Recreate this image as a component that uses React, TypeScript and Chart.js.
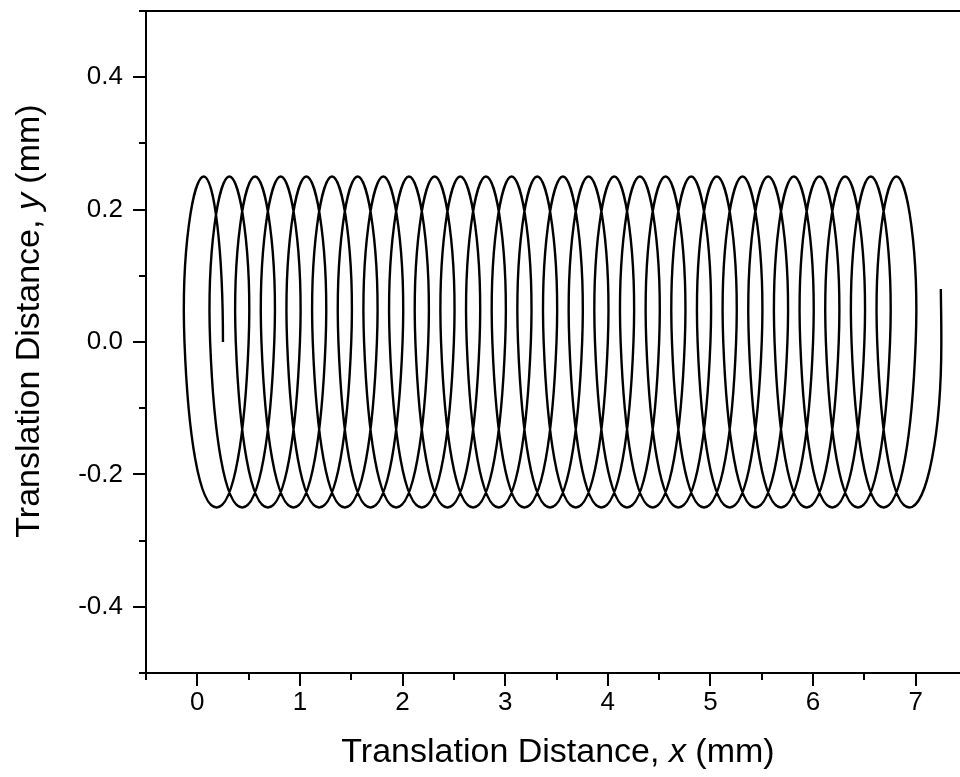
import React, { useEffect, useRef } from 'react';
import { Chart, registerables } from 'chart.js';

Chart.register(...registerables);

const FONT = '"Liberation Sans", Arial, sans-serif';

// Key points of the trochoid path (right, top, left, bottom of each loop), in mm
const pathX = [
  0.25, 0.0625, -0.125, 0.1875,
  0.5, 0.3125, 0.125, 0.4375,
  0.75, 0.5625, 0.375, 0.6875,
  1.0, 0.8125, 0.625, 0.9375,
  1.25, 1.0625, 0.875, 1.1875,
  1.5, 1.3125, 1.125, 1.4375,
  1.75, 1.5625, 1.375, 1.6875,
  2.0, 1.8125, 1.625, 1.9375,
  2.25, 2.0625, 1.875, 2.1875,
  2.5, 2.3125, 2.125, 2.4375,
  2.75, 2.5625, 2.375, 2.6875,
  3.0, 2.8125, 2.625, 2.9375,
  3.25, 3.0625, 2.875, 3.1875,
  3.5, 3.3125, 3.125, 3.4375,
  3.75, 3.5625, 3.375, 3.6875,
  4.0, 3.8125, 3.625, 3.9375,
  4.25, 4.0625, 3.875, 4.1875,
  4.5, 4.3125, 4.125, 4.4375,
  4.75, 4.5625, 4.375, 4.6875,
  5.0, 4.8125, 4.625, 4.9375,
  5.25, 5.0625, 4.875, 5.1875,
  5.5, 5.3125, 5.125, 5.4375,
  5.75, 5.5625, 5.375, 5.6875,
  6.0, 5.8125, 5.625, 5.9375,
  6.25, 6.0625, 5.875, 6.1875,
  6.5, 6.3125, 6.125, 6.4375,
  6.75, 6.5625, 6.375, 6.6875,
  7.0, 6.8125, 6.625, 6.9375,
  7.25, 7.245,
];

const pathY = [
  0, 0.25, 0, -0.25,
  0, 0.25, 0, -0.25,
  0, 0.25, 0, -0.25,
  0, 0.25, 0, -0.25,
  0, 0.25, 0, -0.25,
  0, 0.25, 0, -0.25,
  0, 0.25, 0, -0.25,
  0, 0.25, 0, -0.25,
  0, 0.25, 0, -0.25,
  0, 0.25, 0, -0.25,
  0, 0.25, 0, -0.25,
  0, 0.25, 0, -0.25,
  0, 0.25, 0, -0.25,
  0, 0.25, 0, -0.25,
  0, 0.25, 0, -0.25,
  0, 0.25, 0, -0.25,
  0, 0.25, 0, -0.25,
  0, 0.25, 0, -0.25,
  0, 0.25, 0, -0.25,
  0, 0.25, 0, -0.25,
  0, 0.25, 0, -0.25,
  0, 0.25, 0, -0.25,
  0, 0.25, 0, -0.25,
  0, 0.25, 0, -0.25,
  0, 0.25, 0, -0.25,
  0, 0.25, 0, -0.25,
  0, 0.25, 0, -0.25,
  0, 0.25, 0, -0.25,
  0, 0.08,
];

const xMajorTicks = [0, 1, 2, 3, 4, 5, 6, 7];
const xMinorTicks = [-0.5, 0.5, 1.5, 2.5, 3.5, 4.5, 5.5, 6.5, 7.5];
const yMajorTicks = [-0.4, -0.2, 0.0, 0.2, 0.4];
const yMinorTicks = [-0.5, -0.3, -0.1, 0.1, 0.3, 0.5];

const xTitleParts: [string, boolean][] = [['Translation Distance, ', false], ['x', true], [' (mm)', false]];
const yTitleParts: [string, boolean][] = [['Translation Distance, ', false], ['y', true], [' (mm)', false]];

const TITLE_SIZE = 34;

function drawParts(ctx: CanvasRenderingContext2D, parts: [string, boolean][], size: number) {
  const widths: number[] = [];
  let total = 0;
  parts.forEach(([t, it]) => {
    ctx.font = `${it ? 'italic ' : ''}${size}px ${FONT}`;
    const w = ctx.measureText(t).width;
    widths.push(w);
    total += w;
  });
  let x = -total / 2;
  parts.forEach(([t, it], i) => {
    ctx.font = `${it ? 'italic ' : ''}${size}px ${FONT}`;
    ctx.fillText(t, x, 0);
    x += widths[i];
  });
}

// Make the path start and finish with vertical tangents (as in the recorded trajectory)
const endTangentPlugin = {
  id: 'endTangents',
  beforeDatasetDraw(chart: any, args: any) {
    const meta = args.meta;
    const line = meta.dataset;
    if (!line) return;
    line.updateControlPoints(chart.chartArea, meta.iScale ? meta.iScale.axis : 'x');
    const pts = meta.data;
    const n = pts.length;
    if (n < 3) return;
    pts[0].cp2x = pts[0].x;
    pts[n - 2].cp1x = pts[n - 2].x;
    pts[n - 2].cp2x = pts[n - 2].x;
    line._path = undefined;
  },
};

const framePlugin = {
  id: 'frameTicks',
  afterDraw(chart: any) {
    const { ctx, chartArea } = chart;
    const { left, right, top, bottom } = chartArea;
    const xs = chart.scales.x;
    const ys = chart.scales.y;
    ctx.save();
    ctx.strokeStyle = '#000';
    ctx.lineWidth = 2;
    ctx.beginPath();
    ctx.moveTo(left - 1, top);
    ctx.lineTo(right, top);
    ctx.lineTo(right, bottom);
    xMajorTicks.forEach((v) => {
      const p = Math.round(xs.getPixelForValue(v));
      ctx.moveTo(p, bottom);
      ctx.lineTo(p, bottom + 13);
    });
    xMinorTicks.forEach((v) => {
      const p = Math.round(xs.getPixelForValue(v));
      ctx.moveTo(p, bottom);
      ctx.lineTo(p, bottom + 7);
    });
    yMajorTicks.forEach((v) => {
      const p = Math.round(ys.getPixelForValue(v));
      ctx.moveTo(left, p);
      ctx.lineTo(left - 13, p);
    });
    yMinorTicks.forEach((v) => {
      const p = Math.round(ys.getPixelForValue(v));
      ctx.moveTo(left, p);
      ctx.lineTo(left - 7, p);
    });
    ctx.stroke();

    ctx.fillStyle = '#000';
    ctx.textBaseline = 'alphabetic';
    ctx.textAlign = 'left';
    ctx.save();
    ctx.translate(558, 762);
    drawParts(ctx, xTitleParts, TITLE_SIZE);
    ctx.restore();
    ctx.save();
    ctx.translate(39, 321);
    ctx.rotate(-Math.PI / 2);
    drawParts(ctx, yTitleParts, TITLE_SIZE);
    ctx.restore();
    ctx.restore();
  },
};

export default function App() {
  const ref = useRef<HTMLCanvasElement | null>(null);

  useEffect(() => {
    if (!ref.current) return;
    const data = pathX.map((x, i) => ({ x, y: pathY[i] }));
    const chart = new Chart(ref.current, {
      type: 'line',
      data: {
        datasets: [
          {
            data,
            borderColor: '#000',
            borderWidth: 2.4,
            pointRadius: 0,
            tension: 0.55,
            fill: false,
          },
        ],
      },
      options: {
        animation: false,
        responsive: false,
        devicePixelRatio: 1,
        layout: { padding: { left: 0, top: 11, right: 33, bottom: 0 } },
        plugins: { legend: { display: false }, tooltip: { enabled: false } },
        scales: {
          x: {
            type: 'linear',
            position: 'bottom',
            min: -0.5,
            max: 7.5,
            grid: { display: false },
            border: { display: true, color: '#000', width: 2 },
            ticks: {
              color: '#000',
              font: { family: FONT, size: 26 },
              padding: 6,
              autoSkip: false,
              maxRotation: 0,
              callback: (v: any) => String(v),
            },
            afterBuildTicks: (scale: any) => {
              scale.ticks = xMajorTicks.map((v) => ({ value: v }));
            },
            afterFit: (scale: any) => {
              scale.height = 104;
              scale.paddingLeft = 0;
              scale.paddingRight = 0;
            },
          },
          y: {
            type: 'linear',
            min: -0.5,
            max: 0.5,
            grid: { display: false },
            border: { display: true, color: '#000', width: 2 },
            ticks: {
              color: '#000',
              font: { family: FONT, size: 26 },
              padding: 15,
              autoSkip: false,
              callback: (v: any) => Number(v).toFixed(1),
            },
            afterBuildTicks: (scale: any) => {
              scale.ticks = yMajorTicks.map((v) => ({ value: v }));
            },
            afterFit: (scale: any) => {
              scale.width = 146;
              scale.paddingTop = 0;
              scale.paddingBottom = 0;
            },
          },
        },
      },
      plugins: [endTangentPlugin, framePlugin],
    });
    return () => chart.destroy();
  }, []);

  return (
    <div
      style={{
        position: 'fixed',
        left: 0,
        top: 0,
        width: 960,
        height: 777,
        overflow: 'hidden',
        background: '#fff',
      }}
    >
      <canvas ref={ref} width={1000} height={777} style={{ display: 'block', width: 1000, height: 777 }} />
    </div>
  );
}
